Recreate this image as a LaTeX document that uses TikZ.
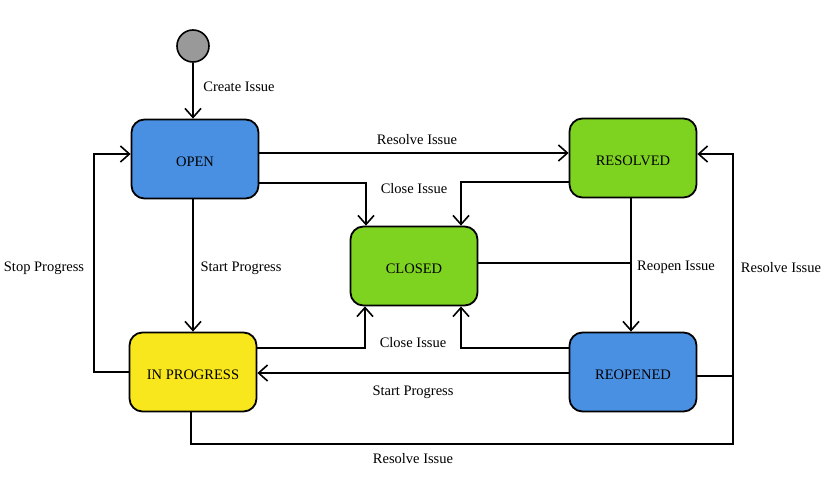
\documentclass[tikz,border=0pt]{standalone}
\usepackage{fontspec}
\setmainfont{Liberation Serif}
\usetikzlibrary{arrows.meta}
\definecolor{cblue}{HTML}{4A90E2}
\definecolor{cgreen}{HTML}{7ED321}
\definecolor{cyellow}{HTML}{F8E71C}
\definecolor{cgrey}{HTML}{999999}
\begin{document}
\begin{tikzpicture}[x=1pt,y=-1pt,
  state/.style={draw=black, line width=1.8pt, rounded corners=13pt, minimum width=127pt, minimum height=79pt, inner sep=0pt, text height=14pt, text depth=0pt, font=\fontsize{14.5}{17}\selectfont},
  lbl/.style={font=\fontsize{14.5}{17}\selectfont, inner sep=1pt},
  conn/.style={line width=1.6pt, black},
  arr/.style={conn, -{Straight Barb[length=9pt,width=16pt,line width=1.6pt]}}]
\useasboundingbox (0,0) rectangle (831,482);
\node[circle, draw=black, line width=1.6pt, fill=cgrey, minimum size=32pt, inner sep=0pt] (start) at (193,46) {};
\node[state, fill=cblue] (open) at (195,159) {OPEN};
\node[state, fill=cgreen] (resolved) at (633,158) {RESOLVED};
\node[state, fill=cgreen] (closed) at (414,266) {CLOSED};
\node[state, fill=cyellow] (inprog) at (193,372) {IN PROGRESS};
\node[state, fill=cblue] (reopened) at (633,372) {REOPENED};

\coordinate (jr) at (631,263);
\coordinate (rtop) at (733,154);
\coordinate (rmid) at (733,376);
\coordinate (rbot) at (733,444);
\coordinate (ltop) at (94,154);

% start -> open
\draw[arr] (start) -- (start |- open.north);
% open -> resolved
\draw[arr] (open.east |- 0,153) -- (resolved.west |- 0,153);
% open -> closed
\draw[arr] (open.east |- 0,183) -| ([xshift=-48pt]closed.north);
% resolved -> closed
\draw[arr] (resolved.west |- 0,182) -| ([xshift=47pt]closed.north);
% closed -> reopened (joins)
\draw[conn] (closed.east |- jr) -- (jr);
% resolved -> reopened
\draw[arr] (resolved.south -| jr) -- (reopened.north -| jr);
% reopened -> resolved
\draw[arr] (reopened.east |- rmid) -- (rmid) -- (rtop) -- (resolved.east |- rtop);
% in progress -> resolved (joins)
\draw[conn] (inprog.south -| 191,0) |- (rbot) -- (rmid);
% reopened -> closed
\draw[arr] (reopened.west |- 0,348) -| ([xshift=47pt]closed.south);
% in progress -> closed
\draw[arr] (inprog.east |- 0,348) -| ([xshift=-49pt]closed.south);
% reopened -> in progress
\draw[arr] (reopened.west |- 0,373) -- (inprog.east |- 0,373);
% open -> in progress
\draw[arr] (open.south -| 193,0) -- (inprog.north -| 193,0);
% in progress -> open
\draw[arr] (inprog.west |- 0,372) -| (ltop) -- (open.west |- ltop);

\node[lbl] (l1) at (239,87) {Create Issue};
\node[lbl] (l2) at (417,140) {Resolve Issue};
\node[lbl] (l3) at (414,189) {Close Issue};
\node[lbl] (l4) at (241,268) {Start Progress};
\node[lbl] (l5) at (44,268) {Stop Progress};
\node[lbl] (l6) at (676,267) {Reopen Issue};
\node[lbl] (l7) at (781,268) {Resolve Issue};
\node[lbl] (l8) at (413,343) {Close Issue};
\node[lbl] (l9) at (413,392) {Start Progress};
\node[lbl] (l10) at (413,459) {Resolve Issue};
\end{tikzpicture}
\end{document}
